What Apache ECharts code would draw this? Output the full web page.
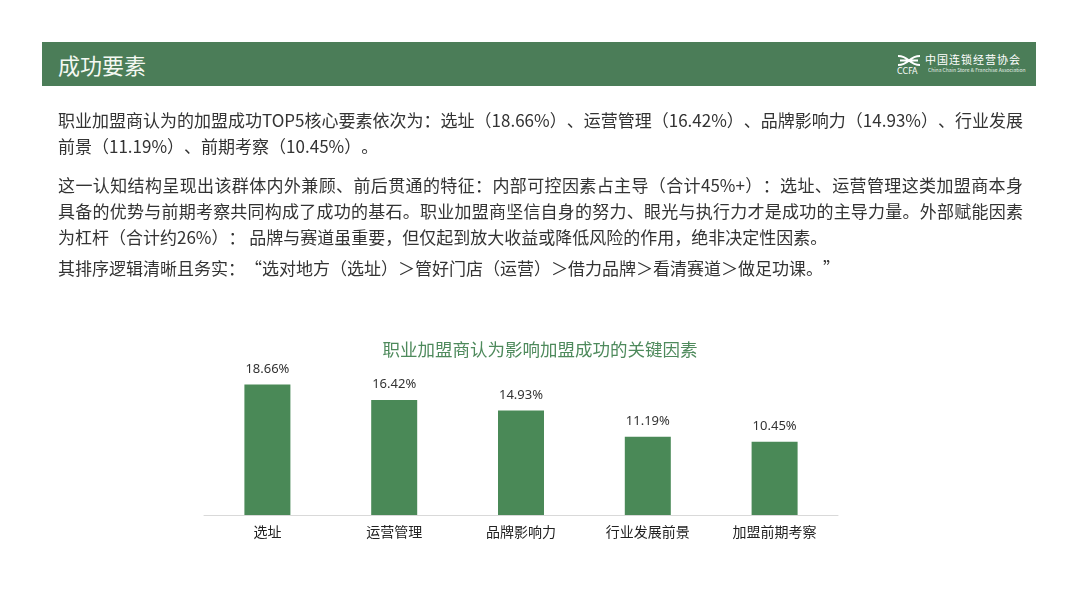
<!DOCTYPE html>
<html lang="zh-CN"><head><meta charset="utf-8">
<script src="https://cdn.jsdelivr.net/npm/echarts@6/dist/echarts.min.js"></script>
<style>
html,body{margin:0;padding:0;background:#fff;width:1080px;height:608px;overflow:hidden;font-family:"Noto Sans CJK SC","Noto Sans",sans-serif;}
#chart{position:absolute;left:0;top:0;width:1080px;height:608px;}
.hdr{position:absolute;left:42px;top:42px;width:994px;height:44px;background:#4b7d58;}
.hdr .t{position:absolute;left:16px;top:0;line-height:44px;font-size:22px;color:#f4f8f2;}
.logo-cn{position:absolute;left:883px;top:10px;font-size:11px;color:#fff;letter-spacing:1px;line-height:14px;white-space:nowrap;}
.logo-en{position:absolute;left:886px;top:25px;font-size:10px;color:#e6efe8;white-space:nowrap;transform:scale(0.5);transform-origin:0 0;line-height:10px;}
.logo-ab{position:absolute;left:855px;top:25px;font-size:8px;color:#fff;line-height:9px;font-family:"DejaVu Sans",sans-serif;}
.ln{position:absolute;left:58px;width:965px;height:26px;line-height:26px;font-size:17px;color:#333;white-space:nowrap;text-spacing-trim:space-all;}
.j{text-align:justify;text-align-last:justify;}
</style></head>
<body>
<div id="chart"></div>
<div class="hdr"><div class="t">成功要素</div>
<svg style="position:absolute;left:855px;top:12px" width="24" height="13" viewBox="0 0 24 13">
<path d="M1 2 Q7 2 12 6.5 Q17 11 23 11 M1 11 Q7 11 12 6.5 Q17 2 23 2 M3 6.5 L21 6.5" stroke="#fff" stroke-width="1.8" fill="none"/>
</svg>
<div class="logo-ab">CCFA</div>
<div class="logo-cn">中国连锁经营协会</div>
<div class="logo-en">China Chain Store &amp; Franchise Association</div>
</div>
<div class="ln j" style="top:107px">职业加盟商认为的加盟成功TOP5核心要素依次为：选址（18.66%）、运营管理（16.42%）、品牌影响力（14.93%）、行业发展</div>
<div class="ln" style="top:133px">前景（11.19%）、前期考察（10.45%）。</div>
<div class="ln j" style="top:172px">这一认知结构呈现出该群体内外兼顾、前后贯通的特征：内部可控因素占主导（合计45%+）：选址、运营管理这类加盟商本身</div>
<div class="ln j" style="top:198px">具备的优势与前期考察共同构成了成功的基石。职业加盟商坚信自身的努力、眼光与执行力才是成功的主导力量。外部赋能因素</div>
<div class="ln" style="top:224px">为杠杆（合计约26%）： 品牌与赛道虽重要，但仅起到放大收益或降低风险的作用，绝非决定性因素。</div>
<div class="ln" style="top:255px">其排序逻辑清晰且务实：“选对地方（选址）＞管好门店（运营）＞借力品牌＞看清赛道＞做足功课。”</div>
<script>
const chartTitle = '职业加盟商认为影响加盟成功的关键因素';
const categories = ['选址', '运营管理', '品牌影响力', '行业发展前景', '加盟前期考察'];
const values = [18.66, 16.42, 14.93, 11.19, 10.45];

const chart = echarts.init(document.getElementById('chart'), null, {renderer: 'canvas'});
chart.setOption({
  animation: false,
  backgroundColor: 'transparent',
  title: {
    text: chartTitle, left: 'center', top: 336,
    textStyle: {color: '#4e8a5c', fontSize: 17.5, fontWeight: 'normal', fontFamily: 'Noto Sans CJK SC'}
  },
  grid: {left: 204, right: 242, top: 375, bottom: 93, containLabel: false},
  xAxis: {
    type: 'category', data: categories,
    axisLine: {lineStyle: {color: '#d9d9d9', width: 1}},
    axisTick: {show: false},
    axisLabel: {color: '#222', fontSize: 14, margin: 10, fontFamily: 'Noto Sans CJK SC'}
  },
  yAxis: {type: 'value', min: 0, max: 20, show: false, splitLine: {show: false}},
  series: [{
    type: 'bar', data: values, barWidth: 46,
    itemStyle: {color: '#4a8957'},
    label: {
      show: true, position: 'top', distance: 9, color: '#333', fontSize: 13,
      fontFamily: 'Noto Sans', formatter: p => p.value.toFixed(2) + '%'
    }
  }]
});
</script>
</body></html>
